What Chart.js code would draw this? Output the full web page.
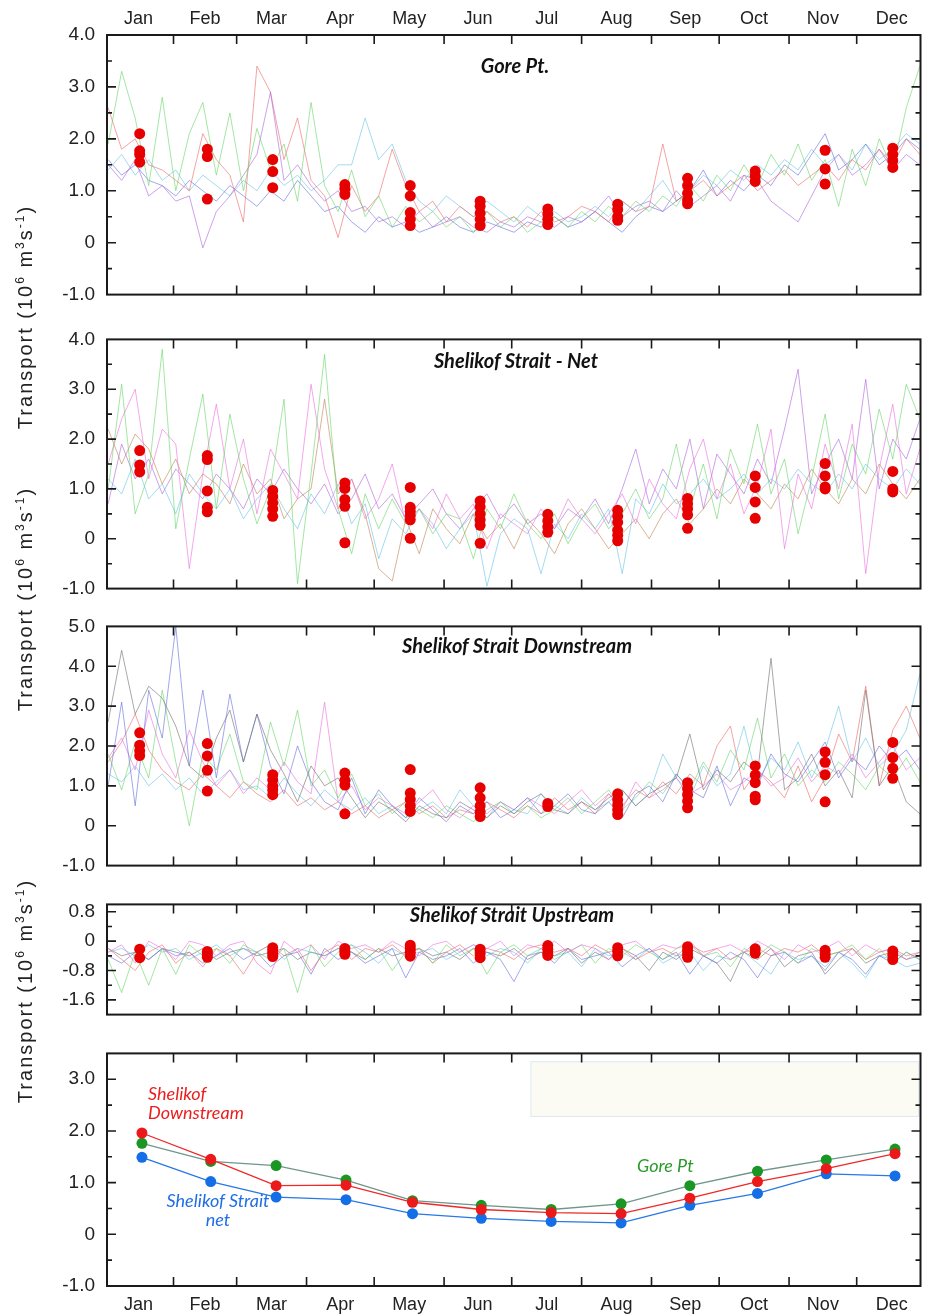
<!DOCTYPE html>
<html>
<head>
<meta charset="utf-8">
<script src="https://cdn.jsdelivr.net/npm/chart.js@4.4.1/dist/chart.umd.min.js"></script>
<style>
  body { margin: 0; background: #fff; }
  #page { position: relative; width: 926px; height: 1315px; overflow: hidden; background: #fff; }
  canvas { position: absolute; left: 0; }
  .title { position: absolute; font-family: Lato, "Open Sans", sans-serif; font-style: italic; font-weight: 700;
           font-size: 20px; color: #111; white-space: nowrap; transform: translate(-50%, -50%); }
  .ylab { position: absolute; width: 260px; height: 24px; line-height: 24px; text-align: center;
          font-family: "Liberation Sans", Arial, sans-serif; font-size: 20px; letter-spacing: 2px;
          color: #222; transform: rotate(-90deg); white-space: pre; }
  .ylab sup { font-size: 12px; vertical-align: 8px; line-height: 0; }
  .note { position: absolute; font-family: Lato, sans-serif; font-style: italic; font-size: 18px;
          line-height: 19px; white-space: nowrap; }
</style>
</head>
<body>
<div id="page">
  <canvas id="c1" width="926" height="318" style="top:0px"></canvas>
  <canvas id="c2" width="926" height="296" style="top:316px"></canvas>
  <canvas id="c3" width="926" height="286" style="top:603px"></canvas>
  <canvas id="c4" width="926" height="157" style="top:881px"></canvas>
  <canvas id="c5" width="926" height="285" style="top:1030px"></canvas>

  <div class="title" style="left:515px;top:65px">Gore Pt.</div>
  <div class="title" style="left:516px;top:360px">Shelikof Strait - Net</div>
  <div class="title" style="left:517px;top:645px">Shelikof Strait Downstream</div>
  <div class="title" style="left:512px;top:914px">Shelikof Strait Upstream</div>

  <div class="ylab" style="left:-105px;top:305px">Transport (10<sup>6</sup> m<sup>3</sup>s<sup>-1</sup>)</div>
  <div class="ylab" style="left:-105px;top:587px">Transport (10<sup>6</sup> m<sup>3</sup>s<sup>-1</sup>)</div>
  <div class="ylab" style="left:-105px;top:979px">Transport (10<sup>6</sup> m<sup>3</sup>s<sup>-1</sup>)</div>

  <div class="note" style="left:148px;top:1084px;color:rgb(235,30,30)">Shelikof<br>Downstream</div>
  <div class="note" style="left:218px;top:1191px;color:rgb(30,110,230);text-align:center;transform:translateX(-50%)">Shelikof Strait<br>net</div>
  <div class="note" style="left:637px;top:1156px;color:rgb(40,155,40)">Gore Pt</div>
</div>

<script>
// month axis (day of year)
const months = ["Jan", "Feb", "Mar", "Apr", "May", "Jun", "Jul", "Aug", "Sep", "Oct", "Nov", "Dec"];
const monthStarts = [31, 59, 90, 120, 151, 181, 212, 243, 273, 304, 334];
const monthMid = [15.5, 45, 74.5, 105, 135.5, 166, 196.5, 227.5, 258, 288.5, 319, 349.5];
const dotDays = [16, 46, 75, 107, 136, 167, 197, 228, 259, 289, 320, 350];
const meanDays = [17, 47.5, 76.5, 107.5, 137, 167.5, 198.5, 229.5, 260, 290, 320.5, 351];

// sample days for the yearly traces
const days = [2, 8, 14, 20, 26, 32, 38, 44, 50, 56, 62, 68, 74, 80, 86, 92, 98, 104, 110, 116,
  122, 128, 134, 140, 146, 152, 158, 164, 170, 176, 182, 188, 194, 200, 206, 212, 218, 224, 230, 236,
  242, 248, 254, 260, 266, 272, 278, 284, 290, 296, 302, 308, 314, 320, 326, 332, 338, 344, 350, 356, 362];

/* Gore Pt. */
const goreGreen = [1.9, 3.3, 2.4, 1.1, 2.8, 1.0, 2.1, 2.7, 1.3, 2.5,
  1.0, 2.2, 1.4, 1.9, 0.8, 2.7, 1.1, 0.6, 1.4, 0.5,
  0.9, 0.3, 0.7, 0.4, 0.6, 0.3, 0.5, 0.2, 0.6, 0.3,
  0.5, 0.2, 0.4, 0.5, 0.3, 0.6, 0.4, 0.7, 0.5, 0.8,
  0.6, 0.9, 0.7, 1.1, 0.8, 1.3, 1.0, 1.5, 1.1, 1.7,
  1.3, 1.9, 1.2, 1.6, 0.7, 1.8, 1.1, 2.0, 1.4, 2.6, 3.4];
const gorePurple = [1.5, 1.2, 1.6, 0.9, 1.1, 0.8, 0.9, -0.1, 0.6, 0.9,
  1.3, 1.7, 2.9, 1.2, 1.5, 1.1, 0.8, 1.0, 0.6, 0.7,
  0.4, 0.5, 0.3, 0.6, 0.3, 0.4, 0.5, 0.3, 0.2, 0.4,
  0.3, 0.5, 0.4, 0.3, 0.5, 0.4, 0.6, 0.9, 0.5, 0.7,
  0.8, 0.6, 1.0, 0.7, 0.9, 1.1, 0.8, 1.3, 1.2, 0.8,
  0.6, 0.4, 0.9, 1.4, 1.7, 1.3, 1.5, 1.8, 1.4, 1.7, 1.5];
const goreRed = [2.6, 1.8, 2.0, 1.5, 1.4, 1.2, 1.0, 2.1, 1.6, 1.3,
  0.4, 3.4, 2.9, 1.6, 2.4, 1.2, 0.9, 0.1, 1.1, 0.6,
  0.9, 1.8, 1.1, 0.6, 0.8, 0.4, 0.7, 0.5, 0.6, 0.4,
  0.5, 0.3, 0.6, 0.4, 0.5, 0.7, 0.6, 0.4, 0.8, 0.6,
  0.7, 1.9, 0.8, 1.0, 1.2, 0.9, 1.1, 1.3, 1.0, 1.2,
  1.4, 1.1, 1.3, 1.5, 1.2, 1.6, 1.4, 1.8, 1.5, 2.0, 1.7];
const goreBlue = [1.6, 1.3, 1.5, 1.2, 1.1, 0.9, 1.2, 1.0, 0.8, 1.1,
  0.9, 0.7, 1.0, 0.8, 1.2, 0.9, 0.6, 0.7, 0.4, 0.2,
  0.5, 0.3, 0.4, 0.2, 0.3, 0.5, 0.3, 0.2, 0.4, 0.3,
  0.2, 0.4, 0.3, 0.5, 0.3, 0.4, 0.6, 0.4, 0.2, 0.5,
  0.7, 0.6, 0.8, 1.0, 1.4, 0.9, 1.2, 1.0, 1.3, 1.1,
  1.5, 1.3, 1.7, 2.1, 1.4, 1.6, 1.9, 1.5, 1.7, 2.0, 1.8];
const goreCyan = [1.4, 1.7, 1.3, 1.6, 1.2, 1.4, 1.0, 1.3, 1.1, 0.9,
  1.2, 1.0, 1.4, 1.1, 1.3, 1.0, 1.2, 1.5, 1.5, 2.4,
  1.6, 1.9, 1.2, 0.8, 0.6, 0.9, 0.7, 0.5, 0.8, 0.6,
  0.4, 0.7, 0.5, 0.6, 0.4, 0.5, 0.7, 0.5, 0.8, 0.6,
  0.9, 1.2, 0.8, 1.0, 1.3, 1.1, 1.4, 1.2, 1.5, 1.3,
  1.6, 1.4, 1.8, 1.5, 1.7, 1.4, 1.9, 1.6, 1.8, 2.1, 1.9];
const goreDots = [[2.10, 1.77, 1.70, 1.55], [1.80, 1.66, 0.84], [1.60, 1.37, 1.06], [1.12, 1.04, 0.93],
  [1.10, 0.90, 0.58, 0.45, 0.33], [0.80, 0.70, 0.57, 0.45, 0.33], [0.65, 0.55, 0.45, 0.35],
  [0.74, 0.64, 0.50, 0.43], [1.24, 1.10, 0.95, 0.82, 0.75], [1.38, 1.28, 1.18], [1.78, 1.42, 1.13],
  [1.82, 1.70, 1.58, 1.45]];

/* Shelikof Strait - Net */
const netGreen = [1.0, 3.1, 0.5, 1.3, 3.8, 0.2, 1.6, 2.9, 0.6, 2.5,
  1.2, 0.3, 1.0, 2.8, -0.9, 1.3, 3.7, 0.6, -0.3, 0.9,
  0.2, 0.8, 0.3, 0.6, 0.1, 0.5, 0.4, -0.4, 0.6, 0.2,
  0.9, 0.3, 0.0, 0.5, -0.1, 0.4, 0.7, 0.2, 0.5, 1.0,
  0.4, 0.8, 1.9, 0.6, 1.5, 0.4, 1.8, 1.1, 2.3, 0.9,
  1.6, 0.1, 1.2, 2.5, 0.8, 1.9, 1.3, 2.6, 1.6, 3.1, 2.4];
const netPink = [1.5, 2.4, 3.0, 1.2, 2.2, 1.9, -0.6, 1.3, 2.7, 1.0,
  2.0, 0.5, 1.8, 1.3, 0.8, 3.1, 1.4, 0.6, 1.2, 0.4,
  0.8, 1.5, 0.3, 0.6, 0.2, 0.9, 0.4, 0.7, -0.2, 0.5,
  0.3, 0.1, 0.6, 0.2, 0.8, 0.4, 0.1, 0.5, 0.9, 0.3,
  1.2, 0.7, 0.4, 1.4, 2.0, 0.8, 1.5, 0.5, 1.1, 2.2,
  -0.2, 1.3, 0.6, 1.9, 1.0, 2.3, -0.7, 1.4, 2.7, 0.9, 1.8];
const netBrown = [2.2, 1.5, 2.1, 1.8, 1.1, 1.6, 0.9, 1.3, 1.1, 0.7,
  1.5, 0.9, 1.2, 0.4, 0.8, 1.0, 2.8, 0.9, 1.2, 0.5,
  -0.6, -0.85, 0.4, -0.3, 0.6, 0.2, -0.1, 0.5, 0.0, 0.3,
  -0.2, 0.4, 0.1, -0.3, 0.3, 0.6, 0.2, -0.2, 0.1, 0.4,
  0.0, 0.5, 0.8, 0.3, 0.6, 1.0, 0.7, 1.2, 0.9, 0.6,
  1.1, 0.8, 1.4, 1.0, 0.7, 1.2, 0.9, 1.5, 1.1, 0.8, 1.2];
const netCyan = [1.2, 0.9, 1.6, 0.8, 1.1, 0.5, 1.3, 0.9, 0.6, 1.0,
  0.4, 0.8, 1.1, 0.6, 0.2, 0.9, 0.5, 1.1, 0.3, 0.7,
  -0.4, 0.4, 0.1, 0.6, 0.3, -0.2, 0.2, 0.5, -0.95, 0.1,
  0.4, 0.2, -0.7, 0.3, 0.0, 0.5, 0.2, 0.6, -0.7, 0.8,
  0.5, 1.1, 0.7, 0.9, 1.2, 0.8, 1.0, 1.3, 0.9, 1.2,
  1.0, 1.4, 1.1, 0.9, 1.3, 1.0, 1.5, 1.2, 1.0, 1.4, 1.1];
const netPurple = [0.7, 1.9, 1.2, 1.6, 0.9, 1.4, 1.1, 0.8, 1.3, 1.0,
  0.6, 1.2, 0.9, 1.4, 1.0, 0.7, 1.1, 0.5, 0.8, 1.3,
  0.6, 0.9, 0.4, 0.7, 1.0, 0.5, 0.2, 0.6, 0.9, 0.4,
  0.7, 0.3, 0.5, 0.2, 0.6, 0.4, 0.8, 0.3, 1.0, 1.8,
  0.7, 1.4, 1.0, 2.0, 0.6, 1.7, 1.3, 0.9, 1.6, 1.1,
  2.2, 3.4, 0.9, 1.5, 2.0, 1.2, 3.2, 1.0, 2.0, 1.6, 2.4];
const netDots = [[1.77, 1.48, 1.34], [1.67, 1.59, 0.96, 0.63, 0.54], [0.97, 0.85, 0.72, 0.60, 0.45],
  [1.12, 1.01, 0.79, 0.65, -0.08], [1.03, 0.63, 0.55, 0.47, 0.38, 0.01], [0.76, 0.64, 0.50, 0.38, 0.27, -0.09],
  [0.49, 0.36, 0.24, 0.13], [0.57, 0.45, 0.33, 0.17, 0.07, -0.04], [0.81, 0.70, 0.60, 0.48, 0.21],
  [1.26, 1.03, 0.74, 0.41], [1.51, 1.26, 1.04, 1.00], [1.35, 1.00, 0.94]];

/* Shelikof Strait Downstream */
const downGray = [2.6, 4.4, 2.8, 3.5, 3.2, 2.5, 1.5, 1.2, 2.2, 2.9,
  1.6, 2.8, 1.9, 1.3, 0.6, 1.5, 1.0, 1.2, 0.7, 0.2,
  0.6, 0.4, 0.1, 0.5, 0.3, 0.2, 0.6, 0.4, 0.2, 0.5,
  0.3, 0.6, 0.8, 0.4, 0.3, 0.6, 0.4, 0.7, 0.9, 0.5,
  0.8, 1.0, 1.2, 2.3, 0.9, 1.4, 1.1, 1.6, 1.3, 4.2,
  0.9, 1.2, 1.8, 1.0, 1.4, 0.7, 3.4, 1.0, 1.5, 0.6, 0.3];
const downBlue = [1.0, 3.1, 0.5, 3.4, 2.2, 5.0, 1.5, 3.4, 1.2, 3.3,
  1.6, 2.8, 1.5, 0.8, 2.0, 1.1, 0.6, 0.4, 1.2, 0.3,
  0.9, 0.5, 0.2, 0.7, 0.4, 0.1, 0.5, 0.3, 0.6, 0.2,
  0.4, 0.7, 0.3, 0.5, 0.8, 0.4, 0.3, 0.6, 0.2, 0.8,
  1.0, 0.6, 1.3, 0.9, 0.7, 1.5, 0.5, 1.2, 1.0, 1.8,
  1.3, 1.1, 1.6, 2.1, 1.2, 1.7, 1.4, 2.0, 1.6, 1.9, 1.4];
const downGreen = [1.8, 0.9, 2.1, 1.2, 3.4, 1.6, 0.0, 1.8, 1.4, 2.3,
  1.1, 0.9, 2.6, 1.5, 2.9, 1.0, 1.4, 0.7, 1.3, 0.5,
  0.8, 0.3, 0.6, 0.4, 0.2, 0.5, 0.3, 0.1, 0.4, 0.6,
  0.3, 0.5, 0.2, 0.4, 0.7, 0.3, 0.6, 0.9, 0.4, 0.7,
  1.1, 0.8, 1.3, 0.9, 1.6, 1.1, 1.9, 1.4, 2.7, 1.2,
  1.8, 1.0, 1.4, 1.1, 1.6, 1.3, 0.9, 1.5, 1.2, 1.7, 1.1];
const downPink = [1.7, 2.2, 1.4, 2.9, 1.8, 1.2, 2.4, 1.6, 1.0, 1.4,
  0.8, 1.2, 0.9, 1.6, 1.1, 0.8, 3.1, 0.6, 1.0, 0.4,
  0.7, 0.5, 0.3, 0.6, 0.9, 0.4, 0.2, 0.5, 0.3, 0.6,
  0.4, 0.7, 0.5, 0.3, 0.6, 0.9, 0.5, 0.8, 0.4, 1.1,
  0.7, 0.9, 1.2, 0.8, 1.0, 1.3, 0.9, 1.1, 1.4, 1.0,
  1.2, 1.7, 1.1, 1.5, 1.3, 1.8, 1.2, 1.6, 2.0, 1.4, 1.7];
const downCyan = [1.3, 1.1, 1.5, 1.0, 1.3, 0.9, 1.2, 0.8, 1.1, 1.4,
  0.9, 1.0, 0.7, 1.2, 0.8, 0.5, 0.9, 0.6, 0.4, 0.7,
  0.3, 0.5, 0.2, 0.4, 0.6, 0.3, 0.9, 0.5, 0.2, 0.6,
  0.4, 0.3, 0.8, 0.5, 0.3, 0.7, 0.4, 0.6, 0.9, 0.5,
  0.8, 1.8, 1.2, 0.7, 1.5, 1.0, 1.3, 2.5, 1.1, 1.7,
  1.4, 2.1, 1.2, 1.9, 3.0, 1.6, 2.2, 1.5, 1.8, 2.4, 3.8];
const downRed = [1.6, 2.1, 2.8, 1.9, 1.4, 1.1, 0.9, 1.3, 1.0, 0.7,
  1.1, 0.8, 0.6, 0.9, 0.5, 0.7, 0.4, 0.6, 0.3, 0.5,
  0.2, 0.4, 0.6, 0.3, 0.5, 0.2, 0.4, 0.3, 0.6, 0.4,
  0.2, 0.5, 0.3, 0.7, 0.4, 0.6, 0.3, 0.8, 0.5, 0.9,
  0.7, 1.1, 0.8, 1.3, 1.0, 2.0, 2.5, 0.9, 1.4, 1.1,
  0.7, 1.5, 0.6, 1.2, 2.3, 1.6, 3.5, 1.0, 2.4, 3.0, 2.2];
const downDots = [[2.33, 2.02, 1.88, 1.76], [2.06, 1.75, 1.39, 0.87], [1.28, 1.15, 1.00, 0.90, 0.78],
  [1.32, 1.14, 1.02, 0.30], [1.41, 0.82, 0.66, 0.50, 0.36], [0.95, 0.70, 0.50, 0.35, 0.23], [0.56, 0.48],
  [0.80, 0.65, 0.52, 0.40, 0.28], [1.08, 0.93, 0.78, 0.62, 0.45], [1.50, 1.27, 1.08, 0.74, 0.65],
  [1.85, 1.59, 1.28, 0.60], [2.09, 1.71, 1.44, 1.19]];

/* Shelikof Strait Upstream */
const upPink = [-0.3, -0.1, -0.6, 0.0, -0.2, -0.5, 0.0, -0.1, -0.4, -0.1,
  0.0, -0.6, -0.9, 0.0, -0.3, -0.1, -0.5, 0.0, -0.2, -0.1,
  -0.3, 0.0, -0.2, -0.4, -0.1, 0.0, -0.3, -0.1, -0.2, 0.0,
  -0.4, -0.1, -0.2, 0.0, -0.3, -0.1, -0.2, -0.5, -0.1, 0.0,
  -0.3, -0.1, -0.2, 0.0, -0.4, -0.2, -0.1, -0.3, 0.0, -0.2,
  -0.5, -0.1, -0.3, -0.2, 0.0, -0.4, -0.1, -0.3, -0.2, -0.5, -0.3];
const upGreen = [-0.5, -1.4, -0.3, -1.2, -0.2, -0.9, -0.1, -0.4, -0.2, -0.6,
  -0.1, -0.3, -0.5, -0.2, -1.4, -0.1, -0.7, -0.3, -0.1, -0.5,
  -0.2, -0.8, -0.3, -0.2, -0.6, -0.1, -0.4, -0.2, -0.9, -0.3,
  -0.1, -0.4, -0.2, -0.5, -0.3, -0.1, -0.6, -0.2, -0.4, -0.1,
  -0.3, -0.5, -0.2, -0.1, -0.4, -0.3, -0.7, -0.2, -0.4, -0.1,
  -0.3, -0.6, -0.2, -0.4, -0.3, -0.1, -0.5, -0.2, -0.6, -0.3, -0.5];
const upRed = [-0.2, -0.5, -0.8, -0.3, -0.1, -0.6, -0.3, -0.7, -0.2, -0.4,
  -0.9, -0.3, -0.1, -0.4, -0.2, -0.8, -0.3, -0.1, -0.5, -0.2,
  -0.3, -0.1, -0.4, -0.2, -0.6, -0.3, -0.1, -0.4, -0.2, -0.3,
  -0.5, -0.2, -0.1, -0.3, -0.2, -0.4, -0.1, -0.3, -0.2, -0.5,
  -0.3, -0.2, -0.4, -0.1, -0.3, -0.2, -0.5, -0.3, -0.2, -0.4,
  -0.2, -0.3, -0.1, -0.4, -0.3, -0.2, -0.5, -0.3, -0.2, -0.4, -0.3];
const upBlue = [-0.4, -0.6, -0.3, -0.5, -0.2, -0.4, -0.3, -0.6, -0.4, -0.2,
  -0.5, -0.3, -0.7, -0.4, -0.3, -0.9, -0.2, -0.5, -0.3, -0.6,
  -0.4, -0.2, -1.0, -0.3, -0.5, -0.4, -0.2, -0.6, -0.3, -0.5,
  -1.1, -0.4, -0.3, -0.6, -0.2, -0.5, -0.4, -0.3, -0.7, -0.4,
  -0.2, -0.5, -0.3, -0.9, -0.4, -0.6, -0.3, -0.5, -1.0, -0.4,
  -0.3, -0.6, -0.4, -0.8, -0.3, -0.5, -0.9, -0.4, -0.6, -0.3, -0.5];
const upCyan = [-0.3, -0.2, -0.4, -0.1, -0.3, -0.2, -0.5, -0.3, -0.1, -0.4,
  -0.2, -0.3, -0.1, -0.5, -0.2, -0.3, -0.4, -0.2, -0.1, -0.3,
  -0.6, -0.2, -0.4, -0.3, -0.2, -0.5, -0.3, -0.1, -0.4, -0.2,
  -0.3, -0.6, -0.2, -0.4, -0.3, -0.7, -0.2, -0.4, -0.3, -0.5,
  -0.2, -0.6, -0.4, -0.3, -0.8, -0.4, -0.5, -0.3, -0.6, -0.9,
  -0.3, -0.5, -0.4, -0.7, -0.3, -0.6, -1.0, -0.4, -0.5, -0.7, -0.6];
const upGray = [-0.2, -0.4, -0.3, -0.5, -0.2, -0.3, -0.4, -0.2, -0.5, -0.3,
  -0.2, -0.4, -0.3, -0.2, -0.5, -0.3, -0.4, -0.2, -0.3, -0.5,
  -0.2, -0.4, -0.3, -0.2, -0.4, -0.3, -0.5, -0.2, -0.3, -0.4,
  -0.2, -0.5, -0.3, -0.4, -0.2, -0.6, -0.3, -0.5, -0.2, -0.4,
  -0.8, -0.3, -0.5, -0.2, -0.4, -0.6, -1.1, -0.3, -0.5, -0.2,
  -0.7, -0.4, -0.3, -0.9, -0.5, -0.2, -0.6, -0.4, -0.3, -0.5, -0.4];
const upDots = [[-0.22, -0.45], [-0.28, -0.36, -0.44], [-0.18, -0.26, -0.34, -0.42], [-0.20, -0.28, -0.36],
  [-0.11, -0.20, -0.30, -0.41], [-0.22, -0.32, -0.45], [-0.12, -0.22, -0.32, -0.39], [-0.18, -0.28, -0.40],
  [-0.15, -0.25, -0.35, -0.44], [-0.21, -0.33], [-0.25, -0.35, -0.44], [-0.27, -0.38, -0.50]];

/* monthly means */
const goreMean = [1.76, 1.41, 1.33, 1.05, 0.65, 0.56, 0.48, 0.59, 0.94, 1.22, 1.44, 1.65];
const downMean = [1.96, 1.45, 0.94, 0.95, 0.62, 0.48, 0.42, 0.40, 0.70, 1.02, 1.27, 1.56];
const netMean = [1.49, 1.02, 0.72, 0.67, 0.40, 0.31, 0.25, 0.22, 0.56, 0.79, 1.17, 1.13];

const C = {
  green: "rgba(90,210,90,0.55)", purple: "rgba(170,100,220,0.6)", red: "rgba(235,90,90,0.55)",
  blue: "rgba(100,110,220,0.6)", cyan: "rgba(90,190,230,0.55)", brown: "rgba(190,130,80,0.6)",
  pink: "rgba(235,110,220,0.6)", gray: "rgba(110,110,110,0.6)"
};

Chart.defaults.font.family = "'Liberation Sans', Arial, sans-serif";
Chart.defaults.color = "#222";

// box + inward ticks, drawn from the chart's own scales
const framePlugin = {
  id: "frame",
  afterDraw(chart) {
    const { ctx, chartArea: a, scales: { x, y } } = chart;
    ctx.save();
    ctx.strokeStyle = "#1a1a1a";
    ctx.lineWidth = 1.6;
    ctx.beginPath();
    monthStarts.forEach(d => {
      const px = x.getPixelForValue(d);
      ctx.moveTo(px, a.top); ctx.lineTo(px, a.top + 9);
      ctx.moveTo(px, a.bottom); ctx.lineTo(px, a.bottom - 9);
    });
    y.ticks.forEach(t => {
      if (t.value <= y.min + 1e-9 || t.value >= y.max - 1e-9) return;
      const py = y.getPixelForValue(t.value);
      const len = t.label ? 9 : 5;
      ctx.moveTo(a.left, py); ctx.lineTo(a.left + len, py);
      ctx.moveTo(a.right, py); ctx.lineTo(a.right - len, py);
    });
    ctx.stroke();
    ctx.lineWidth = 2;
    ctx.strokeRect(a.left, a.top, a.right - a.left, a.bottom - a.top);
    ctx.restore();
  }
};

// empty pale key box in the lower panel
const boxPlugin = {
  id: "keyBox",
  beforeDatasetsDraw(chart) {
    const { ctx, scales: { x, y } } = chart;
    const l = x.getPixelForValue(189.5), r = x.getPixelForValue(361.5);
    const t = y.getPixelForValue(3.34), b = y.getPixelForValue(2.28);
    ctx.save();
    ctx.fillStyle = "rgb(251,251,243)";
    ctx.fillRect(l, t, r - l, b - t);
    ctx.strokeStyle = "rgba(205,225,240,0.7)";
    ctx.lineWidth = 1;
    ctx.strokeRect(l, t, r - l, b - t);
    ctx.restore();
  }
};

function trace(vals, color) {
  return {
    data: days.map((d, i) => ({ x: d, y: vals[i] })),
    borderColor: color, borderWidth: 1, pointRadius: 0, tension: 0, order: 2
  };
}

function dotSet(groups) {
  const pts = [];
  groups.forEach((g, m) => g.forEach(v => pts.push({ x: dotDays[m], y: v })));
  return { data: pts, showLine: false, pointRadius: 5.5, pointBackgroundColor: "#e60000",
           pointBorderWidth: 0, borderColor: "#e60000", order: 0 };
}

const intLabel = v => Number.isInteger(v) ? (v === 0 ? "0" : v.toFixed(1)) : "";
const upLabel = v => {
  const r = Math.round(v * 10) / 10;
  return [0.8, 0, -0.8, -1.6].includes(r) ? (r === 0 ? "0" : r.toFixed(1)) : "";
};

function xAxis(pos, show, h, pad) {
  return {
    type: "linear", position: pos, display: show, min: 1.5, max: 362.3,
    grid: { display: false, drawTicks: false }, border: { display: false },
    afterBuildTicks: s => { s.ticks = monthMid.map(v => ({ value: v })); },
    afterFit: s => { if (h) s.height = h; },
    ticks: { autoSkip: false, maxRotation: 0, padding: pad || 8, font: { size: 18 },
             callback: (v, i) => months[i] }
  };
}

function yAxis(min, max, step, fmt) {
  return {
    min: min, max: max,
    grid: { display: false, drawTicks: false }, border: { display: false },
    afterFit: s => { s.width = 107; },
    ticks: { stepSize: step, autoSkip: false, includeBounds: false, padding: 12,
             font: { size: 19 }, callback: fmt }
  };
}

function panel(id, datasets, x, y, pad, extra) {
  return new Chart(document.getElementById(id), {
    type: "line",
    data: { datasets: datasets },
    options: {
      responsive: false, animation: false, events: [],
      layout: { padding: pad },
      plugins: { legend: { display: false }, tooltip: { enabled: false } },
      scales: { x: x, y: y }
    },
    plugins: [framePlugin].concat(extra || [])
  });
}

panel("c1",
  [dotSet(goreDots), trace(goreGreen, C.green), trace(gorePurple, C.purple), trace(goreRed, C.red),
   trace(goreBlue, C.blue), trace(goreCyan, C.cyan)],
  xAxis("top", true, 35, 5), yAxis(-1, 4, 0.5, intLabel),
  { left: 0, right: 2, top: 0, bottom: 13 });

panel("c2",
  [dotSet(netDots), trace(netGreen, C.green), trace(netPink, C.pink), trace(netBrown, C.brown),
   trace(netCyan, C.cyan), trace(netPurple, C.purple)],
  xAxis("bottom", false), yAxis(-1, 4, 0.5, intLabel),
  { left: 0, right: 2, top: 12, bottom: 14 });

panel("c3",
  [dotSet(downDots), trace(downGray, C.gray), trace(downBlue, C.blue), trace(downGreen, C.green),
   trace(downPink, C.pink), trace(downCyan, C.cyan), trace(downRed, C.red)],
  xAxis("bottom", false), yAxis(-1, 5, 1, intLabel),
  { left: 0, right: 2, top: 12, bottom: 14 });

panel("c4",
  [dotSet(upDots), trace(upPink, C.pink), trace(upGreen, C.green), trace(upRed, C.red),
   trace(upBlue, C.blue), trace(upCyan, C.cyan), trace(upGray, C.gray)],
  xAxis("bottom", false), yAxis(-2, 1, 0.4, upLabel),
  { left: 0, right: 2, top: 12, bottom: 14 });

function meanLine(vals, line, dot, order) {
  return {
    data: meanDays.map((d, i) => ({ x: d, y: vals[i] })),
    borderColor: line, borderWidth: 1.3, pointRadius: 5.5, pointBackgroundColor: dot,
    pointBorderWidth: 0, tension: 0, order: order
  };
}

panel("c5",
  [meanLine(downMean, "rgb(240,40,40)", "rgb(235,25,25)", 0),
   meanLine(netMean, "rgb(40,120,230)", "rgb(20,110,230)", 1),
   meanLine(goreMean, "rgb(110,150,140)", "rgb(25,150,35)", 2)],
  xAxis("bottom", true, 29, 8), yAxis(-1, 3.5, 0.5, intLabel),
  { left: 0, right: 2, top: 12, bottom: 0 }, [boxPlugin]);
</script>
</body>
</html>
